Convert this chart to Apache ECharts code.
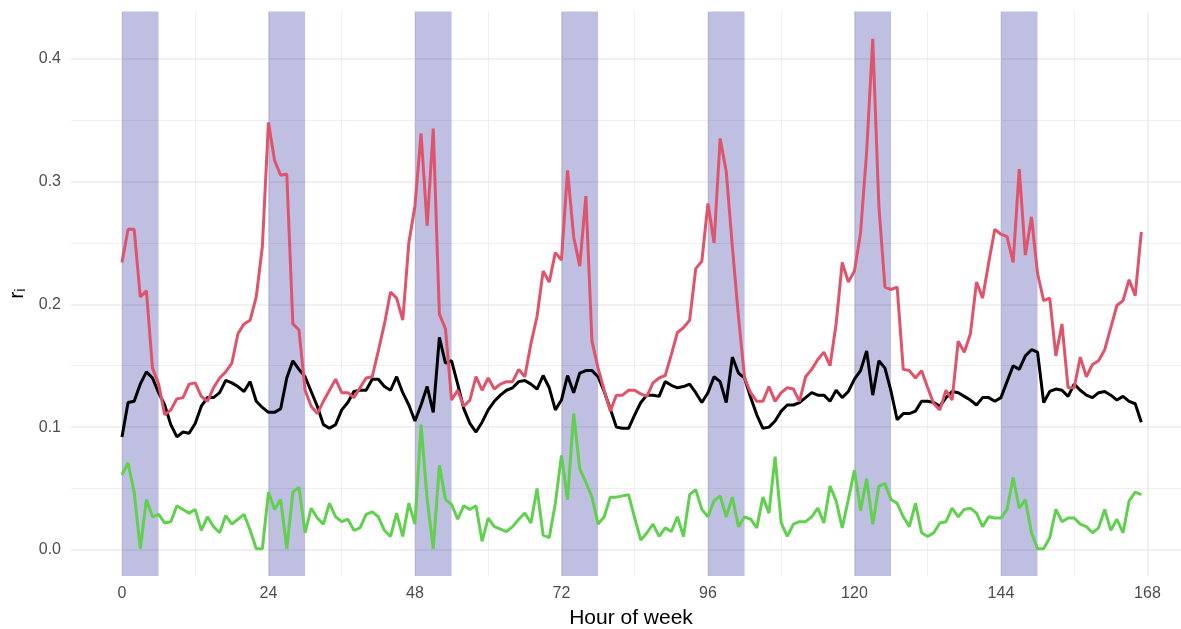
<!DOCTYPE html>
<html>
<head>
<meta charset="utf-8">
<title>r_i by hour of week</title>
<script src="https://cdn.jsdelivr.net/npm/echarts@6/dist/echarts.min.js"></script>
<style>
  html, body { margin: 0; padding: 0; background: #fff; overflow: hidden; }
  #chart { width: 1181px; height: 629px; }
</style>
</head>
<body>
<div id="chart"></div>
<script>
// values, one per hour (0..167)
const redVals = [
  0.234, 0.261, 0.261, 0.206, 0.211, 0.148, 0.135, 0.110, 0.114, 0.123, 0.124, 0.135,
  0.136, 0.125, 0.121, 0.132, 0.140, 0.145, 0.152, 0.176, 0.184, 0.187, 0.206, 0.247,
  0.348, 0.317, 0.305, 0.306, 0.184, 0.179, 0.130, 0.117, 0.111, 0.121, 0.130, 0.139,
  0.128, 0.128, 0.124, 0.132, 0.140, 0.141, 0.162, 0.184, 0.210, 0.205, 0.187, 0.250,
  0.280, 0.339, 0.264, 0.343, 0.192, 0.180, 0.122, 0.130, 0.117, 0.122, 0.141, 0.130,
  0.140, 0.131, 0.135, 0.137, 0.137, 0.147, 0.141, 0.168, 0.190, 0.227, 0.218, 0.242,
  0.236, 0.309, 0.255, 0.231, 0.288, 0.170, 0.148, 0.130, 0.113, 0.126, 0.126, 0.130,
  0.130, 0.127, 0.125, 0.136, 0.140, 0.142, 0.159, 0.177, 0.181, 0.187, 0.229, 0.235,
  0.282, 0.250, 0.335, 0.308, 0.247, 0.190, 0.140, 0.128, 0.121, 0.121, 0.133, 0.121,
  0.128, 0.132, 0.131, 0.121, 0.141, 0.147, 0.155, 0.161, 0.150, 0.184, 0.234, 0.218,
  0.227, 0.258, 0.324, 0.416, 0.280, 0.214, 0.212, 0.214, 0.147, 0.146, 0.140, 0.146,
  0.132, 0.119, 0.114, 0.130, 0.122, 0.170, 0.161, 0.176, 0.218, 0.205, 0.234, 0.261,
  0.257, 0.255, 0.234, 0.310, 0.240, 0.271, 0.225, 0.203, 0.205, 0.158, 0.184, 0.132,
  0.132, 0.157, 0.141, 0.151, 0.154, 0.163, 0.181, 0.199, 0.203, 0.220, 0.207, 0.259
];
const blackVals = [
  0.092, 0.120, 0.121, 0.135, 0.145, 0.140, 0.128, 0.118, 0.102, 0.092, 0.096, 0.095,
  0.103, 0.117, 0.124, 0.124, 0.128, 0.138, 0.136, 0.133, 0.129, 0.137, 0.121, 0.116,
  0.112, 0.112, 0.115, 0.140, 0.154, 0.147, 0.141, 0.129, 0.117, 0.102, 0.099, 0.102,
  0.114, 0.120, 0.129, 0.130, 0.130, 0.139, 0.139, 0.133, 0.130, 0.141, 0.128, 0.118,
  0.105, 0.118, 0.133, 0.112, 0.173, 0.152, 0.154, 0.135, 0.115, 0.103, 0.096, 0.104,
  0.114, 0.121, 0.126, 0.130, 0.132, 0.137, 0.138, 0.135, 0.131, 0.142, 0.132, 0.114,
  0.122, 0.142, 0.128, 0.144, 0.146, 0.146, 0.141, 0.129, 0.115, 0.100, 0.099, 0.099,
  0.110, 0.120, 0.126, 0.126, 0.125, 0.137, 0.134, 0.132, 0.133, 0.135, 0.128, 0.120,
  0.128, 0.141, 0.137, 0.120, 0.157, 0.144, 0.140, 0.124, 0.110, 0.099, 0.100, 0.105,
  0.113, 0.118, 0.118, 0.120, 0.124, 0.128, 0.126, 0.126, 0.121, 0.130, 0.124, 0.129,
  0.139, 0.146, 0.162, 0.126, 0.154, 0.148, 0.129, 0.106, 0.111, 0.111, 0.113, 0.121,
  0.121, 0.120, 0.117, 0.124, 0.129, 0.128, 0.125, 0.122, 0.118, 0.124, 0.124, 0.121,
  0.124, 0.137, 0.150, 0.147, 0.158, 0.163, 0.161, 0.120, 0.129, 0.131, 0.130, 0.125,
  0.135, 0.130, 0.126, 0.124, 0.128, 0.129, 0.126, 0.122, 0.125, 0.121, 0.119, 0.104
];
const greenVals = [
  0.061, 0.071, 0.047, 0.001, 0.041, 0.027, 0.029, 0.022, 0.023, 0.036, 0.033, 0.030,
  0.033, 0.016, 0.027, 0.019, 0.014, 0.028, 0.021, 0.025, 0.029, 0.016, 0.001, 0.001,
  0.047, 0.033, 0.041, 0.001, 0.047, 0.051, 0.014, 0.034, 0.026, 0.021, 0.038, 0.027,
  0.023, 0.025, 0.016, 0.018, 0.029, 0.031, 0.027, 0.016, 0.011, 0.030, 0.011, 0.038,
  0.021, 0.102, 0.041, 0.001, 0.069, 0.041, 0.037, 0.025, 0.036, 0.033, 0.036, 0.007,
  0.026, 0.019, 0.017, 0.015, 0.019, 0.025, 0.030, 0.022, 0.050, 0.012, 0.010, 0.038,
  0.077, 0.041, 0.111, 0.066, 0.055, 0.043, 0.021, 0.027, 0.043, 0.043, 0.044, 0.045,
  0.026, 0.008, 0.014, 0.021, 0.011, 0.018, 0.015, 0.027, 0.011, 0.045, 0.049, 0.033,
  0.027, 0.040, 0.044, 0.027, 0.043, 0.019, 0.027, 0.025, 0.018, 0.043, 0.030, 0.076,
  0.022, 0.011, 0.021, 0.023, 0.023, 0.027, 0.034, 0.022, 0.052, 0.040, 0.018, 0.041,
  0.065, 0.032, 0.058, 0.021, 0.052, 0.054, 0.041, 0.038, 0.027, 0.019, 0.038, 0.014,
  0.011, 0.014, 0.022, 0.023, 0.034, 0.027, 0.033, 0.034, 0.030, 0.019, 0.027, 0.026,
  0.026, 0.033, 0.059, 0.034, 0.041, 0.014, 0.001, 0.001, 0.010, 0.033, 0.023, 0.026,
  0.026, 0.021, 0.019, 0.014, 0.018, 0.033, 0.016, 0.025, 0.014, 0.040, 0.047, 0.045
];

// shaded hours of each day
const bandStarts = [0, 24, 48, 72, 96, 120, 144];
const bandWidth = 6;

const xMajorTicks = [0, 24, 48, 72, 96, 120, 144, 168];
const xMinorTicks = [12, 36, 60, 84, 108, 132, 156];
const yMajorTicks = [0, 0.1, 0.2, 0.3, 0.4];
const yMinorTicks = [0.05, 0.15, 0.25, 0.35];

const font = "'Liberation Sans', Arial, sans-serif";
const gridColor = '#EBEBEB';
const xMin = -8.35, xMax = 173.5;
const yMin = -0.0212, yMax = 0.4383;

function toPairs(vals) {
  let out = [];
  for (let i = 0; i < vals.length; i++) {
    out.push([i, vals[i]]);
  }
  return out;
}

let chart = echarts.init(document.getElementById('chart'), null, { renderer: 'canvas' });

let bandData = bandStarts.map(s => [{ xAxis: s }, { xAxis: s + bandWidth }]);

const option = {
  animation: false,
  backgroundColor: '#fff',
  textStyle: { fontFamily: font },
  grid: {
    left: 71, right: 0, top: 11.5, bottom: 53,
    containLabel: false,
    outerBoundsMode: 'none'
  },
  xAxis: [
    {
      type: 'value',
      min: xMin,
      max: xMax,
      axisLine: { show: false },
      axisTick: { show: false, customValues: xMajorTicks },
      axisLabel: {
        customValues: xMajorTicks,
        color: '#4D4D4D',
        fontSize: 16,
        fontFamily: font,
        margin: 10
      },
      splitLine: { show: true, lineStyle: { color: gridColor, width: 1.5 } },
      name: 'Hour of week',
      nameLocation: 'middle',
      nameGap: 32,
      nameTextStyle: { color: '#000', fontSize: 21, fontFamily: font, padding: [0, 0, 0, 10] }
    },
    {
      type: 'value',
      min: xMin,
      max: xMax,
      position: 'bottom',
      axisLine: { show: false },
      axisTick: { show: false, customValues: xMinorTicks },
      axisLabel: { show: false },
      splitLine: { show: true, lineStyle: { color: gridColor, width: 0.8 } }
    }
  ],
  yAxis: [
    {
      type: 'value',
      min: yMin,
      max: yMax,
      axisLine: { show: false },
      axisTick: { show: false, customValues: yMajorTicks },
      axisLabel: {
        customValues: yMajorTicks,
        color: '#4D4D4D',
        fontSize: 16,
        fontFamily: font,
        margin: 10,
        formatter: v => v.toFixed(1)
      },
      splitLine: { show: true, lineStyle: { color: gridColor, width: 1.5 } },
      name: '{r|r}{i|i}',
      nameLocation: 'middle',
      nameGap: 40,
      nameTextStyle: {
        rich: {
          r: { fontSize: 21, color: '#000', fontFamily: font },
          i: { fontSize: 14, color: '#000', fontFamily: font, verticalAlign: 'bottom' }
        }
      }
    },
    {
      type: 'value',
      min: yMin,
      max: yMax,
      position: 'left',
      axisLine: { show: false },
      axisTick: { show: false, customValues: yMinorTicks },
      axisLabel: { show: false },
      splitLine: { show: true, lineStyle: { color: gridColor, width: 0.8 } }
    }
  ],
  series: [
    {
      name: 'black',
      type: 'line',
      data: toPairs(blackVals),
      showSymbol: false,
      symbol: 'none',
      lineStyle: { color: '#000000', width: 3 },
      markArea: {
        silent: true,
        z: 1,
        itemStyle: { color: 'rgba(0,0,139,0.25)' },
        data: bandData
      }
    },
    {
      name: 'red',
      type: 'line',
      data: toPairs(redVals),
      showSymbol: false,
      symbol: 'none',
      lineStyle: { color: '#DF536B', width: 3 }
    },
    {
      name: 'green',
      type: 'line',
      data: toPairs(greenVals),
      showSymbol: false,
      symbol: 'none',
      lineStyle: { color: '#61D04F', width: 3 }
    }
  ]
};

chart.setOption(option);

window.addEventListener('resize', function () {
  chart.resize();
});
</script>
</body>
</html>
